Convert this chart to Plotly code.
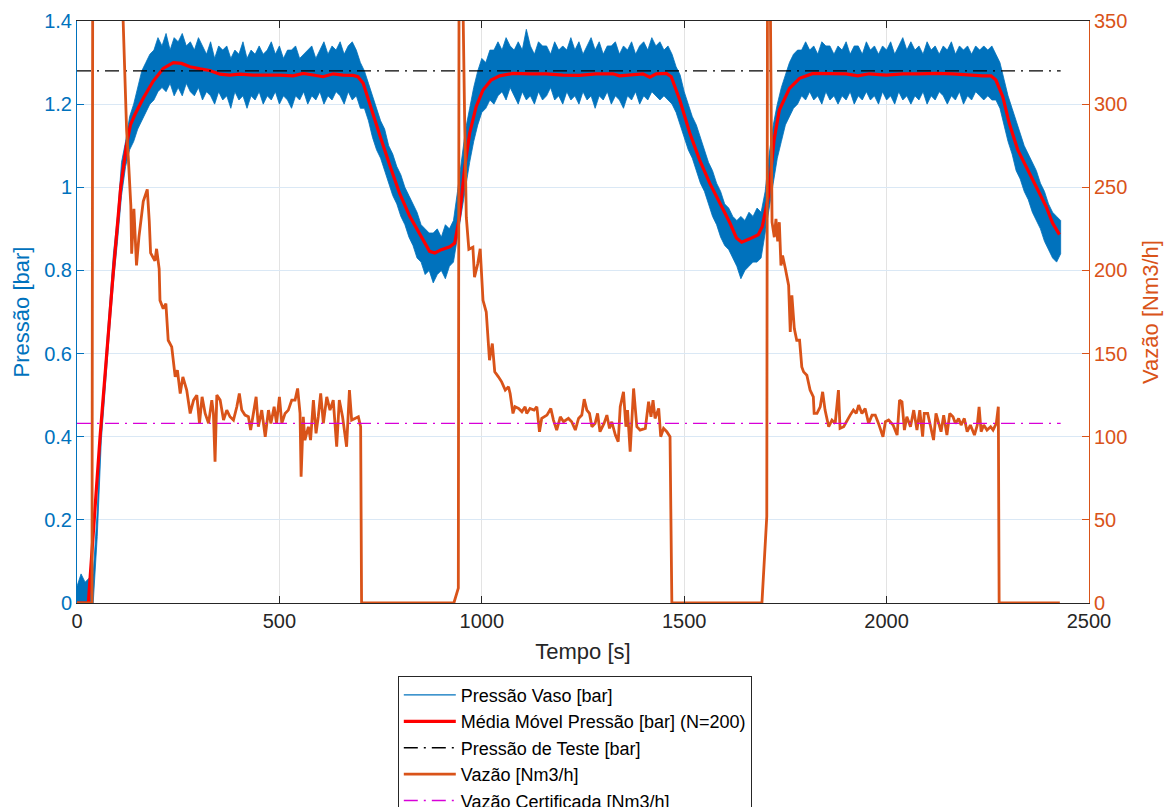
import plotly.graph_objects as go

# ---------------------------------------------------------------------------
# Pressão do vaso: envoltória (máx/mín) do sinal bruto, amostrada a cada 10 s
# ---------------------------------------------------------------------------
ENV_T = list(range(0, 2431, 10))

PRESSAO_MAX = [
    0.04, 0.07, 0.05, 0.06, 0.07,
    0.22, 0.45, 0.58, 0.71, 0.84, 0.93, 1.06, 1.11, 1.17, 1.20, 1.24, 1.28, 1.30, 1.32, 1.33, 1.36,
    1.34, 1.37, 1.33, 1.36, 1.35, 1.37, 1.34, 1.35, 1.33, 1.36,
    1.34, 1.32, 1.35, 1.31, 1.34, 1.33, 1.34, 1.31, 1.33, 1.32,
    1.35, 1.31, 1.33, 1.32, 1.34, 1.32, 1.33, 1.35, 1.32, 1.34,
    1.31, 1.33, 1.33, 1.34, 1.31, 1.32, 1.33, 1.34, 1.31, 1.33,
    1.35, 1.32, 1.34, 1.33, 1.35, 1.32, 1.34, 1.35, 1.33, 1.30,
    1.28, 1.25, 1.22, 1.19, 1.16, 1.14, 1.10, 1.08, 1.05, 1.03, 1.00, 0.98,
    0.96, 0.94, 0.91, 0.90, 0.89, 0.89, 0.90, 0.88, 0.91, 0.90, 0.92,
    0.99, 1.06, 1.14, 1.19, 1.24, 1.28, 1.31, 1.30, 1.33, 1.33, 1.35,
    1.33, 1.36, 1.34, 1.33, 1.35, 1.33, 1.38, 1.34, 1.32, 1.35,
    1.34, 1.34, 1.32, 1.35, 1.33, 1.34, 1.33, 1.36, 1.33, 1.35,
    1.32, 1.34, 1.36, 1.33, 1.35, 1.32, 1.34, 1.34, 1.35, 1.32,
    1.34, 1.33, 1.35, 1.32, 1.34, 1.35, 1.33, 1.36, 1.34, 1.35,
    1.33, 1.34,
    1.32, 1.29, 1.27, 1.23, 1.20, 1.17, 1.15, 1.12, 1.09, 1.06, 1.04, 1.01,
    0.99, 0.96, 0.95, 0.93, 0.92, 0.93, 0.92, 0.94, 0.93, 0.95, 0.94,
    0.99, 1.08, 1.15, 1.20, 1.24, 1.27, 1.30, 1.32, 1.33, 1.33, 1.35,
    1.33, 1.34, 1.32, 1.35, 1.34, 1.34, 1.32, 1.34, 1.33, 1.35,
    1.32, 1.34, 1.34, 1.32, 1.35, 1.33, 1.34, 1.32, 1.34, 1.33,
    1.35, 1.32, 1.34, 1.36, 1.33, 1.35, 1.33, 1.34, 1.32, 1.35,
    1.33, 1.34, 1.32, 1.34, 1.33, 1.35, 1.32, 1.34, 1.33, 1.34,
    1.32, 1.34, 1.33, 1.34, 1.33, 1.34, 1.32,
    1.30, 1.26, 1.22, 1.19, 1.16, 1.13, 1.10, 1.08, 1.06, 1.04, 1.01, 0.99,
    0.96, 0.94, 0.93, 0.92,
]

PRESSAO_MIN = [
    0.00, 0.00, 0.00, 0.00, 0.00,
    0.16, 0.39, 0.53, 0.65, 0.77, 0.87, 0.98, 1.05, 1.09, 1.11, 1.14, 1.16, 1.18, 1.20, 1.21, 1.23,
    1.24, 1.23, 1.25, 1.22, 1.24, 1.22, 1.25, 1.23, 1.22, 1.24,
    1.21, 1.23, 1.22, 1.20, 1.23, 1.21, 1.22, 1.19, 1.23, 1.21,
    1.22, 1.19, 1.22, 1.21, 1.23, 1.20, 1.22, 1.21, 1.23, 1.20,
    1.22, 1.21, 1.19, 1.22, 1.21, 1.23, 1.20, 1.22, 1.21, 1.23,
    1.20, 1.22, 1.21, 1.23, 1.22, 1.20, 1.23, 1.21, 1.22, 1.19,
    1.19, 1.16, 1.12, 1.09, 1.07, 1.04, 1.01, 0.98, 0.96, 0.93, 0.91, 0.88,
    0.86, 0.83, 0.82, 0.79, 0.80, 0.77, 0.79, 0.80, 0.78, 0.81, 0.82,
    0.87, 0.94, 1.00, 1.06, 1.11, 1.15, 1.18, 1.19, 1.21, 1.20, 1.22,
    1.23, 1.21, 1.24, 1.22, 1.20, 1.23, 1.21, 1.22, 1.20, 1.23,
    1.21, 1.22, 1.24, 1.21, 1.22, 1.20, 1.23, 1.21, 1.22, 1.20,
    1.23, 1.21, 1.22, 1.19, 1.22, 1.21, 1.23, 1.20, 1.22, 1.21,
    1.19, 1.22, 1.21, 1.23, 1.20, 1.22, 1.21, 1.23, 1.22, 1.21,
    1.22, 1.21,
    1.20, 1.18, 1.15, 1.12, 1.09, 1.07, 1.04, 1.01, 0.99, 0.96, 0.93, 0.91,
    0.88, 0.86, 0.85, 0.83, 0.81, 0.78, 0.80, 0.81, 0.82, 0.82, 0.83,
    0.88, 0.95, 1.01, 1.07, 1.11, 1.15, 1.17, 1.19, 1.20, 1.22, 1.21,
    1.23, 1.21, 1.22, 1.20, 1.23, 1.21, 1.22, 1.20, 1.22, 1.21,
    1.23, 1.20, 1.22, 1.21, 1.23, 1.21, 1.22, 1.20, 1.23, 1.21,
    1.22, 1.20, 1.23, 1.21, 1.22, 1.20, 1.22, 1.21, 1.23, 1.20,
    1.22, 1.21, 1.23, 1.22, 1.20, 1.22, 1.21, 1.23, 1.20, 1.22,
    1.21, 1.23, 1.22, 1.21, 1.22, 1.21, 1.21,
    1.19, 1.15, 1.11, 1.08, 1.04, 1.02, 0.99, 0.97, 0.94, 0.92, 0.90, 0.87,
    0.85, 0.83, 0.82, 0.84,
]

assert len(PRESSAO_MAX) == len(ENV_T) == len(PRESSAO_MIN)

# ---------------------------------------------------------------------------
# Média móvel da pressão (N=200)
# ---------------------------------------------------------------------------
MM_T = [0, 28, 57, 73, 90, 108, 122, 132, 143, 164, 188, 213, 238, 258, 279, 304, 328, 353,
        377, 402, 435, 468, 501, 534, 559, 583, 608, 633, 657, 682, 694, 707, 723, 748, 772,
        797, 822, 846, 871, 884, 900, 921, 933, 945, 958, 970, 986, 1003, 1023, 1044, 1077,
        1118, 1159, 1200, 1241, 1282, 1324, 1340, 1365, 1398, 1415, 1431, 1456, 1468, 1489,
        1514, 1538, 1563, 1588, 1613, 1629, 1642, 1662, 1683, 1693, 1708, 1722, 1735, 1760,
        1785, 1818, 1859, 1900, 1929, 1957, 1999, 2040, 2081, 2122, 2163, 2204, 2237, 2258,
        2270, 2287, 2303, 2324, 2344, 2369, 2394, 2410, 2427]
MM_P = [0.0, 0.0, 0.40, 0.60, 0.80, 1.00, 1.10, 1.15, 1.175, 1.215, 1.255, 1.286, 1.30, 1.298,
        1.29, 1.285, 1.281, 1.272, 1.27, 1.272, 1.27, 1.27, 1.27, 1.268, 1.274, 1.27, 1.266,
        1.273, 1.27, 1.269, 1.266, 1.25, 1.20, 1.125, 1.055, 0.985, 0.93, 0.89, 0.846, 0.842,
        0.85, 0.857, 0.866, 0.93, 1.05, 1.13, 1.194, 1.234, 1.258, 1.268, 1.274, 1.273, 1.273,
        1.27, 1.269, 1.273, 1.273, 1.268, 1.27, 1.273, 1.265, 1.273, 1.274, 1.266, 1.21, 1.13,
        1.066, 1.01, 0.962, 0.914, 0.878, 0.868, 0.876, 0.886, 0.906, 0.978, 1.114, 1.186,
        1.238, 1.262, 1.274, 1.273, 1.273, 1.268, 1.273, 1.27, 1.273, 1.273, 1.274, 1.273,
        1.27, 1.268, 1.268, 1.258, 1.218, 1.154, 1.09, 1.05, 1.002, 0.954, 0.914, 0.886]

# ---------------------------------------------------------------------------
# Vazão medida [Nm3/h]
# ---------------------------------------------------------------------------
VAZAO_T = [
    0, 37, 39, 104, 114, 122.6, 126.7, 133, 135, 140.6, 147, 153, 163.7, 173.6, 178.5, 181.8,
    192.5, 196.6, 203, 205, 213, 219.6, 225.3, 234, 242.6, 248, 255, 261.5, 271, 279.6, 288,
    296, 302.6, 309, 316.6, 325, 333, 337, 341, 345.4, 353.6, 362, 370, 378, 386.5, 394.8,
    401, 407, 415, 423.5, 429, 436, 442.5, 448, 456.4, 465, 473, 479, 487, 493, 500, 506,
    514, 522, 530.5, 538.7, 545, 551, 553.6, 559, 563, 571.6, 577, 584, 590.5, 596, 602,
    608.6, 617, 625, 633, 641.5, 648, 656, 666, 673, 678.5, 686.7, 695, 700.7, 703,
    931, 942, 944, 950, 957.6, 961.7, 968, 978, 982, 990, 996, 1003, 1011, 1019, 1026, 1032,
    1041, 1049, 1058, 1066, 1070, 1077, 1082, 1091, 1099, 1107, 1111, 1119, 1129, 1136,
    1142.5, 1148, 1161, 1170.5, 1177, 1185, 1194, 1202, 1214, 1222, 1231, 1239, 1247, 1253,
    1259.5, 1266, 1272, 1280, 1286, 1292, 1302, 1309, 1315.5, 1321, 1330, 1337, 1342, 1350,
    1356, 1360, 1366.5, 1375, 1383, 1391, 1404, 1412, 1418, 1423, 1428, 1437, 1442, 1449,
    1457, 1465, 1469.5,
    1692, 1704, 1706, 1711, 1717, 1722.6, 1726.7, 1731, 1735, 1739, 1743, 1750, 1758, 1762,
    1766, 1772, 1778, 1785, 1790.5, 1795, 1803, 1811, 1819, 1821, 1828, 1836, 1842, 1848,
    1857, 1865, 1873, 1881, 1885, 1894, 1902, 1910, 1918, 1925, 1931, 1939, 1947, 1955.5,
    1964, 1972, 1980, 1991, 1997, 2005, 2016, 2026, 2032, 2038, 2044, 2050, 2059, 2067,
    2075, 2082, 2089, 2093, 2101.5, 2108, 2116, 2122, 2129, 2134.5, 2141, 2149, 2156, 2164,
    2170, 2178, 2184, 2192, 2199, 2207, 2217, 2224, 2228.5, 2233.5, 2240, 2248, 2257, 2263,
    2271, 2276, 2278, 2428,
]
VAZAO_Q = [
    0, 0, 420, 420, 350, 284, 268, 239, 210, 237, 203, 220, 241.5, 248.7, 229.6, 210.5,
    205.8, 213, 201, 182, 177, 180, 158, 154, 136, 140, 126, 136, 128, 114, 122,
    125, 108, 124, 114, 108, 122, 114, 85, 125, 122, 110, 116, 112, 110, 118,
    126, 116, 113, 112, 104, 116, 124, 106, 116, 100, 116, 108, 118, 108, 124, 108,
    114, 116, 122, 122, 129, 114, 76, 112, 98, 106, 98, 122, 102, 112, 126,
    108, 124, 116, 122, 94, 122, 112, 94, 128, 110, 111, 112, 106, 0,
    0, 9, 420, 420, 291, 232, 212.7, 214, 196, 204, 213, 182, 175, 146, 156, 139,
    136, 133, 128, 130, 126, 114, 118, 117, 115, 118, 114, 117, 116, 118,
    103, 111, 113, 117, 110, 104, 112, 109, 111, 109, 104, 111, 113, 122.6,
    116, 114, 106, 108, 114, 103, 108, 113, 105, 109, 101, 97, 118, 127,
    106, 116, 91, 129, 106, 104, 105, 121, 112, 122, 111, 117, 100, 105,
    103, 100, 0,
    0, 52, 420, 420, 229, 220, 231, 217.5, 229, 203, 209, 201, 191, 163,
    185, 165, 158, 158, 142, 139, 137, 128, 124, 114, 114, 118, 127, 116,
    106, 110, 108, 128, 105, 106, 110, 113, 116, 114, 119, 114, 117, 108,
    113, 113, 108, 100, 109, 110, 107, 101, 122, 121, 104, 112, 106, 116,
    104, 116, 100, 114, 114, 106, 98, 114, 108, 103, 113, 101, 114, 112,
    108, 111, 107, 111, 103, 107, 101, 107, 118, 103, 107, 104, 106, 104,
    108, 118, 0, 0,
]
assert len(VAZAO_T) == len(VAZAO_Q)

# Valores de referência
PRESSAO_TESTE = 1.28      # bar
VAZAO_CERT = 108.0        # Nm3/h
REF_T = [0, 2430]

# Eixos
X_TICKS = [0, 500, 1000, 1500, 2000, 2500]
P_TICKS = [0, 0.2, 0.4, 0.6, 0.8, 1.0, 1.2, 1.4]
P_TICKTEXT = ["0", "0.2", "0.4", "0.6", "0.8", "1", "1.2", "1.4"]
Q_TICKS = [0, 50, 100, 150, 200, 250, 300, 350]

AZUL = "#0072BD"
LARANJA = "#D95319"
VERMELHO = "#FF0000"
MAGENTA = "#D800D8"
TEXTO = "#262626"
FONTE = "Liberation Sans, Arial, Helvetica, sans-serif"
TRACO_PONTO = "14px,6px,2px,6px"

fig = go.Figure()

# faixa do sinal bruto de pressão
fig.add_trace(go.Scatter(
    x=ENV_T + ENV_T[::-1], y=PRESSAO_MAX + PRESSAO_MIN[::-1],
    mode="lines", fill="toself", fillcolor=AZUL,
    line=dict(color=AZUL, width=0.8), showlegend=False, hoverinfo="skip", yaxis="y"))
fig.add_trace(go.Scatter(
    x=[None], y=[None], mode="lines", name="Pressão Vaso [bar]",
    line=dict(color=AZUL, width=1.2), yaxis="y"))
fig.add_trace(go.Scatter(
    x=MM_T, y=MM_P, mode="lines", name="Média Móvel Pressão [bar] (N=200)",
    line=dict(color=VERMELHO, width=3.2), yaxis="y"))
fig.add_trace(go.Scatter(
    x=REF_T, y=[PRESSAO_TESTE] * len(REF_T), mode="lines", name="Pressão de Teste [bar]",
    line=dict(color="#000000", width=1.3, dash=TRACO_PONTO), yaxis="y"))
fig.add_trace(go.Scatter(
    x=VAZAO_T, y=VAZAO_Q, mode="lines", name="Vazão [Nm3/h]",
    line=dict(color=LARANJA, width=2.8), yaxis="y2"))
fig.add_trace(go.Scatter(
    x=REF_T, y=[VAZAO_CERT] * len(REF_T), mode="lines", name="Vazão Certificada [Nm3/h]",
    line=dict(color=MAGENTA, width=1.4, dash=TRACO_PONTO), yaxis="y2"))

fig.update_layout(
    width=1165, height=807,
    margin=dict(l=77, r=76, t=21, b=204, pad=0, autoexpand=False),
    paper_bgcolor="white", plot_bgcolor="white",
    font=dict(family=FONTE, color=TEXTO),
    legend=dict(
        x=0.317, y=-0.125, xanchor="left", yanchor="top",
        bgcolor="white", bordercolor=TEXTO, borderwidth=1,
        font=dict(family=FONTE, size=18, color="#000000"),
        itemwidth=52, tracegroupgap=0, traceorder="normal"),
    xaxis=dict(
        range=[0, 2500], tickvals=X_TICKS, ticks="inside", ticklen=7, tickwidth=1,
        tickcolor=TEXTO, showline=True, linecolor=TEXTO, linewidth=1, mirror="ticks",
        showgrid=True, gridcolor="#E3E3E3", gridwidth=1, zeroline=False,
        tickfont=dict(family=FONTE, size=20, color=TEXTO),
        title=dict(text="Tempo [s]", font=dict(family=FONTE, size=22, color=TEXTO), standoff=12)),
    yaxis=dict(
        range=[0, 1.4], tickvals=P_TICKS, ticktext=P_TICKTEXT, ticks="inside", ticklen=7,
        tickcolor=AZUL, showline=True, linecolor=AZUL, linewidth=1,
        showgrid=True, gridcolor="#DAE8F5", gridwidth=1, zeroline=False,
        tickfont=dict(family=FONTE, size=20, color=AZUL),
        title=dict(text="Pressão [bar]", font=dict(family=FONTE, size=22, color=AZUL), standoff=8)),
    yaxis2=dict(
        range=[0, 350], tickvals=Q_TICKS, overlaying="y", side="right", ticks="inside",
        ticklen=7, tickcolor=LARANJA, showline=True, linecolor=LARANJA, linewidth=1,
        showgrid=False, zeroline=False,
        tickfont=dict(family=FONTE, size=20, color=LARANJA),
        title=dict(text="Vazão [Nm3/h]", font=dict(family=FONTE, size=22, color=LARANJA), standoff=16)),
)

fig.write_html("out.html")
